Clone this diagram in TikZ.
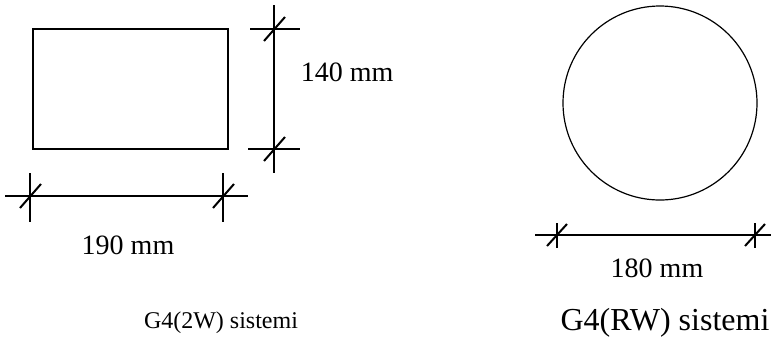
\documentclass[tikz,border=0pt]{standalone}
\usepackage{fontspec}
\setmainfont{Liberation Serif}

\begin{document}
\begin{tikzpicture}[x=1pt,y=-1pt,line width=1.5pt,
  dimline/.style={line width=1.2pt},
  slash/.style={line width=2pt},
  dimlabel/.style={font=\fontsize{28}{30}\selectfont,inner sep=0pt}]
            \useasboundingbox (0,0) rectangle (771,360);
            % shapes
            \draw (130.5,89) node[draw,minimum width=195,minimum height=120] (R) {};
            \draw (660,103) node[circle,draw,line width=1.2pt,minimum size=194] (K) {};

            % height of the rectangle
            \coordinate (Ht) at (274,29);
            \coordinate (Hb) at (274,149);
            \draw[dimline] (274,5)--(274,173);
            \draw[dimline] (250,29)--(300,29);
            \draw[dimline] (248,149)--(300,149);
            \draw[slash] (Ht) ++(-10,12) -- ++(21,-24);
            \draw[slash] (Hb) ++(-10,12) -- ++(21,-24);
            \draw (300,72) node[dimlabel,right] (H) {140 mm};

            % width of the rectangle
            \coordinate (Wl) at (30,196);
            \coordinate (Wr) at (223,196);
            \draw[dimline] (5,196)--(248,196);
            \draw[dimline] (30,173)--(30,222);
            \draw[dimline] (223,173)--(223,222);
            \draw[slash] (Wl) ++(-10,12) -- ++(21,-24);
            \draw[slash] (Wr) ++(-10,12) -- ++(21,-24);
            \draw (128,245) node[dimlabel] (W) {190 mm};

            % diameter of the circle
            \coordinate (Dl) at (557,235);
            \coordinate (Dr) at (755,235);
            \draw[dimline] (535,235)--(771,235);
            \draw[dimline] (557,223)--(557,248);
            \draw[dimline] (755,223)--(755,248);
            \draw[slash] (Dl) ++(-10,11) -- ++(20,-22);
            \draw[slash] (Dr) ++(-10,11) -- ++(20,-22);
            \draw (657,268) node[dimlabel] (D) {180 mm};

            % captions
            \draw (221,323) node[font=\fontsize{24}{26}\selectfont] (A) {G4(2W) sistemi};
            \draw (665,323) node[font=\fontsize{32}{34}\selectfont] (B) {G4(RW) sistemi};
\end{tikzpicture}
\end{document}
